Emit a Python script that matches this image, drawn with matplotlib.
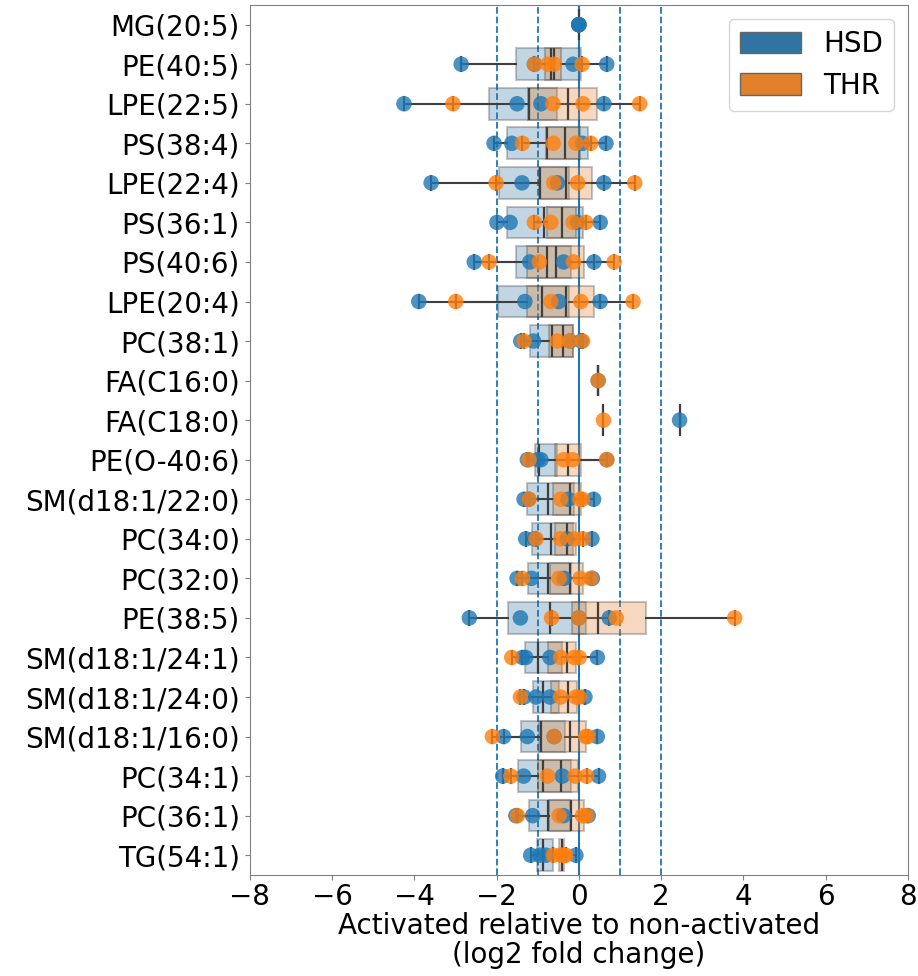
import numpy as np
import matplotlib
matplotlib.use("Agg")
import matplotlib.pyplot as plt
from matplotlib.patches import Patch

# lipid species, top to bottom
lipids = ["MG(20:5)", "PE(40:5)", "LPE(22:5)", "PS(38:4)", "LPE(22:4)", "PS(36:1)",
          "PS(40:6)", "LPE(20:4)", "PC(38:1)", "FA(C16:0)", "FA(C18:0)", "PE(O-40:6)",
          "SM(d18:1/22:0)", "PC(34:0)", "PC(32:0)", "PE(38:5)", "SM(d18:1/24:1)",
          "SM(d18:1/24:0)", "SM(d18:1/16:0)", "PC(34:1)", "PC(36:1)", "TG(54:1)"]

# log2 fold change per replicate
hsd = [
    [0.0, 0.0, 0.0, 0.0],
    [-2.86, -1.08, -0.14, 0.68],
    [-4.25, -1.50, -0.92, 0.61],
    [-2.06, -1.63, 0.09, 0.66],
    [-3.59, -1.38, -0.52, 0.61],
    [-1.99, -1.67, -0.03, 0.52],
    [-2.54, -1.19, -0.37, 0.37],
    [-3.89, -1.31, -0.49, 0.52],
    [-1.41, -1.10, -0.21, 0.06],
    [0.47],
    [2.45],
    [-1.25, -1.00, -0.92, 0.68],
    [-1.33, -1.22, -0.26, 0.36],
    [-1.29, -1.08, -0.28, 0.32],
    [-1.50, -1.15, -0.36, 0.33],
    [-2.66, -1.42, 0.00, 0.74],
    [-1.37, -1.29, -0.70, 0.45],
    [-1.33, -1.04, -0.70, 0.15],
    [-1.83, -1.25, -0.60, 0.45],
    [-1.85, -1.34, -0.40, 0.48],
    [-1.53, -1.12, -0.37, 0.23],
    [-1.17, -0.95, -0.80, -0.07],
]
thr = [
    [],
    [-1.08, -0.75, -0.60, 0.08],
    [-3.06, -0.63, 0.10, 1.48],
    [-1.37, -0.62, -0.07, 0.29],
    [-2.01, -0.61, -0.03, 1.36],
    [-1.08, -0.68, -0.14, 0.17],
    [-2.18, -0.96, -0.13, 0.86],
    [-2.99, -0.68, 0.05, 1.32],
    [-1.33, -0.52, -0.23, 0.09],
    [0.47],
    [0.60],
    [-1.21, -0.37, -0.15, 0.68],
    [-1.21, -0.44, 0.03, 0.09],
    [-1.04, -0.44, -0.11, 0.10],
    [-1.37, -0.48, 0.03, 0.29],
    [-0.66, 0.00, 0.91, 3.79],
    [-1.63, -0.44, -0.11, 0.01],
    [-1.42, -0.44, -0.07, 0.01],
    [-2.10, -0.60, 0.17, 0.22],
    [-1.65, -0.76, -0.09, 0.19],
    [-1.49, -0.48, 0.09, 0.19],
    [-0.62, -0.44, -0.36, -0.32],
]

groups = ["HSD", "THR"]
box_colors = ["#3274a1", "#e1812c"]
point_colors = ["#1f77b4", "#ff7f0e"]

fig = plt.figure(figsize=(9.18, 9.76), dpi=100)
ax = fig.add_axes([0.272, 0.1035, 0.717, 0.8915])

line_col = "#3f3f3f"
for g, (vals, bc, pc) in enumerate(zip([hsd, thr], box_colors, point_colors)):
    pos = [i for i, v in enumerate(vals) if len(v) > 0]
    dat = [vals[i] for i in pos]
    ax.boxplot(dat, positions=pos, orientation="horizontal", widths=0.8,
               whis=(0, 100), showfliers=False, patch_artist=True, capwidths=0.34,
               boxprops=dict(facecolor=bc, edgecolor=line_col, alpha=0.3, linewidth=1.5),
               medianprops=dict(color=line_col, linewidth=1.6),
               whiskerprops=dict(color=line_col, linewidth=1.5),
               capprops=dict(color=line_col, linewidth=1.5),
               manage_ticks=False, zorder=2)
    for i in pos:
        ax.scatter(vals[i], [i] * len(vals[i]), s=125, color=pc, alpha=0.8,
                   edgecolors="none", zorder=3)

# reference lines
ax.axvline(0, color="C0", linewidth=1.5, zorder=1)
for x in [-2, -1, 1, 2]:
    ax.axvline(x, color="C0", linestyle="--", linewidth=1.3, zorder=1)

ax.set_xlim(-8, 8)
ax.set_xticks(np.arange(-8, 9, 2))
ax.set_ylim(len(lipids) - 0.5, -0.5)
ax.set_yticks(range(len(lipids)))
ax.set_yticklabels(lipids)
ax.tick_params(labelsize=20, color="0.5")
ax.tick_params(axis="x", pad=2)
for s in ax.spines.values():
    s.set_color("0.5")
ax.set_xlabel("Activated relative to non-activated\n(log2 fold change)", fontsize=20,
              labelpad=1, linespacing=1.05)

handles = [Patch(facecolor=c, edgecolor="0.4", label=l) for c, l in zip(box_colors, groups)]
ax.legend(handles=handles, loc="upper right", fontsize=20, handlelength=2.2,
          handleheight=0.8)

fig.savefig("out.png", dpi=100)
